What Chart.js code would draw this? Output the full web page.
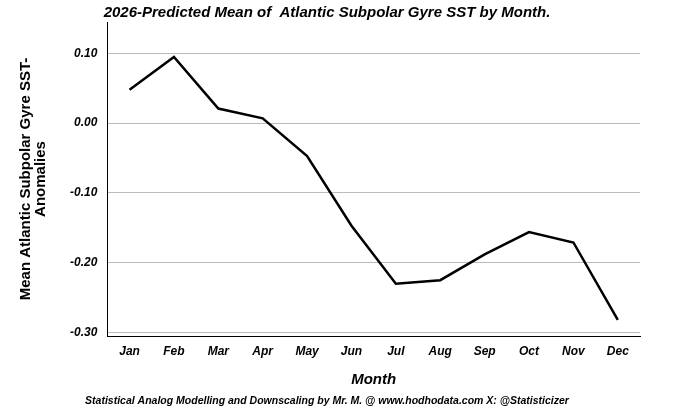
<!DOCTYPE html>
<html><head><meta charset="utf-8">
<script src="https://cdn.jsdelivr.net/npm/chart.js@4"></script>
<style>html,body{margin:0;padding:0;background:#fff}#w{width:680px;height:417px}</style>
</head><body><div id="w"><canvas id="c"></canvas></div>
<script>
const months=["Jan","Feb","Mar","Apr","May","Jun","Jul","Aug","Sep","Oct","Nov","Dec"];
const anomalies=[0.048,0.095,0.021,0.007,-0.047,-0.147,-0.230,-0.225,-0.188,-0.156,-0.171,-0.282];
const yTicks=[-0.3,-0.2,-0.1,0,0.1];
const tickFont={family:"Liberation Sans, Arial",size:12,weight:"bold",style:"italic"};
new Chart(document.getElementById('c'),{
type:'line',
data:{labels:months,datasets:[{data:anomalies,borderColor:'#000',borderWidth:2.5,pointRadius:0,tension:0,fill:false}]},
options:{responsive:true,maintainAspectRatio:false,animation:false,
layout:{padding:{left:14,right:40,top:0,bottom:2}},
plugins:{legend:{display:false},tooltip:{enabled:false},
title:{display:true,text:"2026-Predicted Mean of  Atlantic Subpolar Gyre SST by Month.",font:{family:"Liberation Sans, Arial",size:15,weight:"bold",style:"italic"},color:'#000',padding:{top:4,bottom:0}},
subtitle:{display:true,position:'bottom',text:"Statistical Analog Modelling and Downscaling by Mr. M. @ www.hodhodata.com X: @Statisticizer",font:{family:"Liberation Sans, Arial",size:10.5,weight:"bold",style:"italic"},color:'#000',padding:{top:4,bottom:8}}},
scales:{
x:{offset:true,grid:{display:false,drawTicks:false},border:{color:'#000',width:1},ticks:{color:'#000',font:tickFont,padding:8},
title:{display:true,text:"Month",color:'#000',font:{family:"Liberation Sans, Arial",size:15,weight:"bold",style:"italic"},padding:{top:4,bottom:2}}},
y:{min:-0.305,max:0.145,afterBuildTicks:a=>{a.ticks=yTicks.map(v=>({value:v}));},
grid:{color:'#bbb',drawTicks:false},border:{color:'#000',width:1},
ticks:{color:'#000',font:tickFont,padding:10,callback:v=>v.toFixed(2)},
title:{display:true,text:["Mean Atlantic Subpolar Gyre SST-","Anomalies"],color:'#000',font:{family:"Liberation Sans, Arial",size:15,weight:"bold",lineHeight:1.0},padding:{bottom:12}}}
}}});
</script></body></html>
